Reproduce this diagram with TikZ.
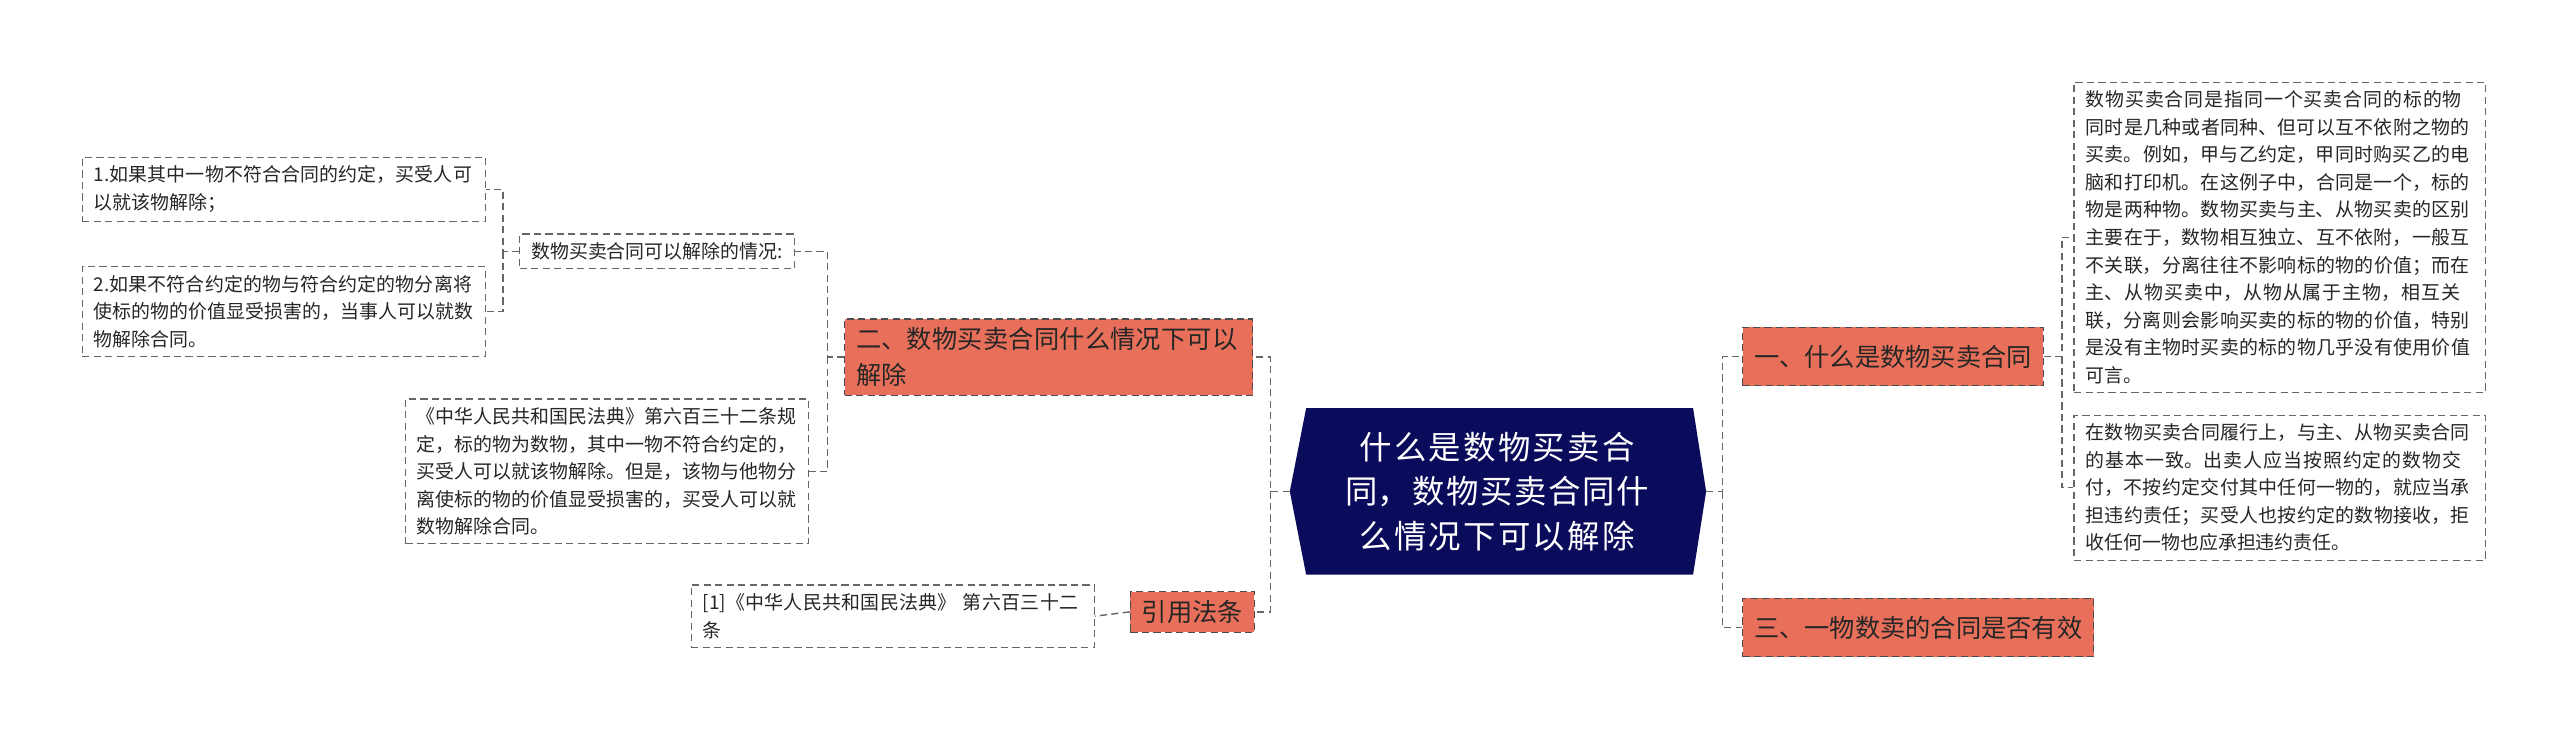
\documentclass[tikz,border=0pt]{standalone}
\usepackage{fontspec}
\setmainfont{Noto Sans CJK SC}
\XeTeXlinebreaklocale "zh"
\XeTeXlinebreakskip=0pt plus 1pt
\begin{document}
\begin{tikzpicture}[x=0.02cm,y=-0.02cm,
  leaf/.style={draw=gray!80!black,dash pattern=on 2.5pt off 1.5pt,fill=white,anchor=north west,align=left,inner xsep=4pt,inner ysep=3pt,font=\fontsize{6.6}{9.6}\selectfont,text=black!85},
  br/.style={draw=gray!60!black,dash pattern=on 2.5pt off 1.5pt,fill=brsal,anchor=north west,align=left,inner xsep=4pt,inner ysep=3pt,font=\fontsize{8.8}{12.5}\selectfont,text=black!85},
  con/.style={draw=gray!80!black,dash pattern=on 2.5pt off 1.5pt,line width=0.5pt}]
\definecolor{brsal}{HTML}{E8705A}
\definecolor{rootc}{HTML}{0B0B5C}
\useasboundingbox (0,0) rectangle (1568,452);
% root
\fill[rootc] (800,250) -- (1037,250) -- (1045,301) -- (1037,352) -- (800,352) -- (790,301) -- cycle;
\node[text=white,align=center,font=\fontsize{11.3}{15.5}\selectfont,text width=4.62cm] (root) at (917,301) {什么是数物买卖合同，数物买卖合同什么情况下可以解除};
% right
\node[br,minimum width=181*0.02cm,minimum height=36*0.02cm] (b1) at (1067,200) {一、什么是数物买卖合同};
\node[br,minimum width=211*0.02cm,minimum height=36*0.02cm] (b3) at (1067,366) {三、一物数卖的合同是否有效};
\node[leaf,text width=4.76cm] (r1) at (1270,50) {数物买卖合同是指同一个买卖合同的标的物同时是几种或者同种、但可以互不依附之物的买卖。例如，甲与乙约定，甲同时购买乙的电脑和打印机。在这例子中，合同是一个，标的物是两种物。数物买卖与主、从物买卖的区别主要在于，数物相互独立、互不依附，一般互不关联，分离往往不影响标的物的价值；而在主、从物买卖中，从物从属于主物，相互关联，分离则会影响买卖的标的物的价值，特别是没有主物时买卖的标的物几乎没有使用价值可言。};
\node[leaf,text width=4.76cm] (r2) at (1270,254) {在数物买卖合同履行上，与主、从物买卖合同的基本一致。出卖人应当按照约定的数物交付，不按约定交付其中任何一物的，就应当承担违约责任；买受人也按约定的数物接收，拒收任何一物也应承担违约责任。};
% left
\node[br,text width=4.72cm] (b2) at (517,195) {二、数物买卖合同什么情况下可以解除};
\node[br] (b4) at (692,362) {引用法条};
\node[leaf] (s1) at (318,143) {数物买卖合同可以解除的情况:};
\node[leaf,text width=4.66cm] (l1) at (50,96) {1.如果其中一物不符合合同的约定，买受人可以就该物解除；};
\node[leaf,text width=4.66cm] (l2) at (50,163) {2.如果不符合约定的物与符合约定的物分离将使标的物的价值显受损害的，当事人可以就数物解除合同。};
\node[leaf,text width=4.66cm] (l3) at (248,244) {《中华人民共和国民法典》第六百三十二条规定，标的物为数物，其中一物不符合约定的，买受人可以就该物解除。但是，该物与他物分离使标的物的价值显受损害的，买受人可以就数物解除合同。};
\node[leaf,text width=4.66cm] (ref) at (423,358) {[1]《中华人民共和国民法典》~第六百三十二条};
% connectors
\draw[con] (790,301) -- ++(-12,0) coordinate (jl) |- (b2.east);
\draw[con] (jl) |- (b4.east);
\draw[con] (1045,301) -- ++(10,0) coordinate (jr) |- (b1.west);
\draw[con] (jr) |- (b3.west);
\draw[con] (b2.west) -- ++(-10,0) coordinate (j2) |- (s1.east);
\draw[con] (j2) |- (l3.east);
\draw[con] (s1.west) -- ++(-10,0) coordinate (j3) |- (l1.east);
\draw[con] (j3) |- (l2.east);
\draw[con] (b1.east) -- ++(11,0) coordinate (j4) |- (r1.west);
\draw[con] (j4) |- (r2.west);
\draw[con] (b4.west) -- (ref.east);
\end{tikzpicture}
\end{document}
